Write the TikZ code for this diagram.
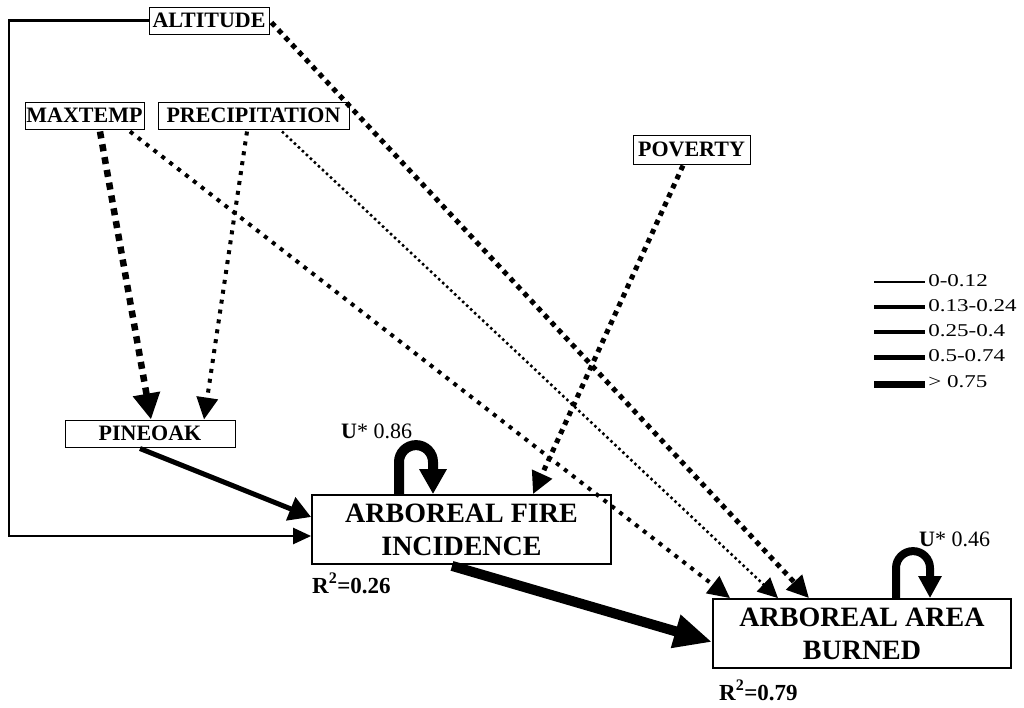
\documentclass[tikz,border=0pt]{standalone}
\usepackage{fontspec}
\setmainfont{Liberation Serif}
\usetikzlibrary{arrows.meta,calc}
\begin{document}
\begin{tikzpicture}[x=1pt,y=-1pt,
  var/.style={draw, line width=1pt, inner sep=0pt, minimum height=27pt,
    font=\fontsize{22}{26}\selectfont\bfseries},
  outcome/.style={draw, line width=1.8pt, inner sep=0pt, minimum width=299pt,
    minimum height=69pt, align=center, font=\fontsize{28}{33}\selectfont\bfseries},
  lab/.style={inner sep=0pt, font=\fontsize{22}{26}\selectfont},
  rsq/.style={inner sep=0pt, font=\fontsize{23}{26}\selectfont\bfseries},
  legtext/.style={inner sep=0pt, anchor=west, xscale=1.28, font=\fontsize{18}{20}\selectfont},
  dotL/.style={line width=5pt, dash pattern=on 5pt off 5pt},
  dotM/.style={line width=4pt, dash pattern=on 4pt off 6pt},
  dotS/.style={line width=2.5pt, dash pattern=on 2.5pt off 3pt},
  dashXL/.style={line width=6.5pt, dash pattern=on 7pt off 6pt},
  tipM/.style={-{Triangle[length=22pt,width=21pt]}},
]
\useasboundingbox (0,0) rectangle (1024,707);

% variables
\node[var, minimum width=120pt] (altitude) at (209,20.5) {ALTITUDE};
\node[var, minimum width=119pt] (maxtemp) at (84.5,115.5) {MAXTEMP};
\node[var, minimum width=191pt] (precip) at (253.5,115.5) {PRECIPITATION};
\node[var, minimum width=117pt, minimum height=29pt] (poverty) at (691.5,149.5) {POVERTY};
\node[var, minimum width=170pt] (pineoak) at (150,433.5) {PINEOAK};
\node[outcome] (fire) at (461.5,529.5) {ARBOREAL FIRE\\INCIDENCE};
\node[outcome, minimum width=298pt] (area) at (862,633.5) {ARBOREAL AREA\\BURNED};

% altitude -> fire incidence (solid, routed round the left)
\coordinate (altcorner) at (9,536);
\draw[line width=2.5pt, -{Triangle[length=18pt,width=16pt]}]
  (altitude.west) -| (altcorner) -- (altcorner -| fire.west);

% climate -> pine-oak
\draw[dashXL, -{Triangle[length=26pt,width=26pt]}]
  ($(maxtemp.south)+(15.5,2)$) -- ($(pineoak.north)+(1,0)$);
\draw[dotM, tipM] ($(precip.south)+(-6.5,2)$) -- ($(pineoak.north)+(54,0)$);

% direct effects on area burned
\draw[dotL, tipM] ($(altitude.east)+(2,2)$) -- ($(area.north)+(-53,0)$);
\draw[dotM, tipM] ($(maxtemp.south)+(45.5,2)$) -- ($(area.north)+(-132,0)$);
\draw[dotS, -{Triangle[length=20pt,width=19pt]}]
  ($(precip.south)+(28.5,2)$) -- ($(area.north)+(-84,0)$);

% poverty -> fire incidence
\draw[dotL, tipM] ($(poverty.south)+(-8.5,1)$) -- ($(fire.north)+(71.5,0)$);

% pine-oak -> fire incidence
\draw[line width=5pt, -{Triangle[length=22pt,width=24pt]}]
  ($(pineoak.south)+(-10,1)$) -- ($(fire.west)+(0,-12.5)$);

% fire incidence -> area burned
\draw[line width=10pt, -{Triangle[length=38pt,width=32pt]}]
  ($(fire.south)+(-9.5,1)$) -- ($(area.west)+(0,8.5)$);

% unexplained variance loops
\draw[line width=10pt, -{Triangle[length=25pt,width=26pt]}]
  ($(fire.north)+(-62.5,0)$) -- ++(0,-32) arc[start angle=180,end angle=360,radius=17]
  -- ($(fire.north)+(-28.5,0)$);
\draw[line width=8pt, -{Triangle[length=22pt,width=22pt]}]
  ($(area.north)+(34,0)$) -- ++(0,-30) arc[start angle=180,end angle=360,radius=17]
  -- ($(area.north)+(68,0)$);

% labels
\node[lab, anchor=base west] (ufire) at (341,438) {\textbf{U}* 0.86};
\node[lab, anchor=base west] (uarea) at (919,546) {\textbf{U}* 0.46};
\node[rsq, anchor=base west] (rfire) at (312,593) {R\textsuperscript{2}=0.26};
\node[rsq, anchor=base west] (rarea) at (719,700) {R\textsuperscript{2}=0.79};

% legend of path widths
\draw[line width=2.2pt] (874,282) -- ++(51,0);
\draw[line width=3.3pt] (874,307) -- ++(51,0);
\draw[line width=4.7pt] (874,332) -- ++(51,0);
\draw[line width=5.7pt] (874,357.5) -- ++(51,0);
\draw[line width=7pt] (874,384) -- ++(51,0);
\node[legtext] (leg1) at (928,280.5) {0-0.12};
\node[legtext] (leg2) at (928,305.5) {0.13-0.24};
\node[legtext] (leg3) at (928,330.5) {0.25-0.4};
\node[legtext] (leg4) at (928,355.5) {0.5-0.74};
\node[legtext] (leg5) at (928,381.5) {> 0.75};
\end{tikzpicture}
\end{document}
